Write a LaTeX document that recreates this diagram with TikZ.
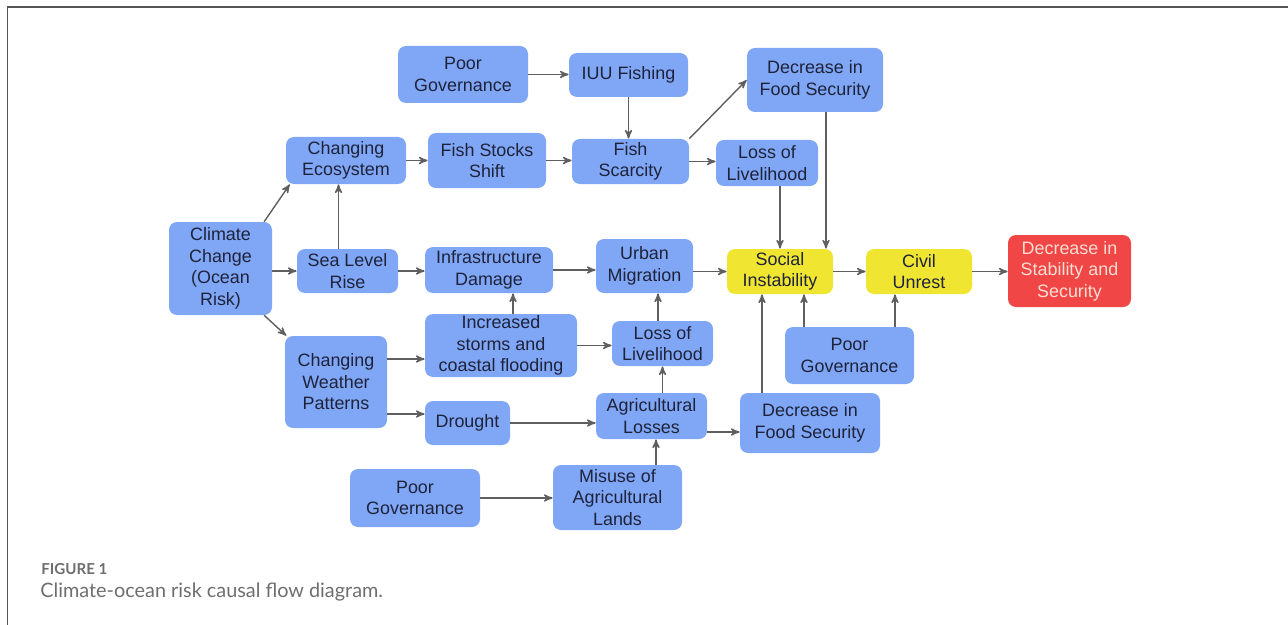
\documentclass[tikz,border=0pt]{standalone}
\usepackage{fontspec}
\setmainfont{Liberation Sans}
\newfontfamily\capfont{Lato}
\usetikzlibrary{arrows, calc}
\definecolor{boxblue}{RGB}{128,166,246}
\definecolor{boxyellow}{RGB}{240,230,50}
\definecolor{boxred}{RGB}{240,70,70}
\definecolor{inktext}{RGB}{30,35,58}
\definecolor{redtext}{RGB}{250,222,212}
\definecolor{edgegray}{RGB}{95,95,95}
\definecolor{framegray}{RGB}{85,85,85}
\definecolor{capgray}{RGB}{110,110,110}
\tikzset{
->, % makes the links directed
>=stealth', % small filled arrow heads
box/.style={rectangle, rounded corners=0.16cm, fill=boxblue, text=inktext, align=center, inner sep=0pt, font=\fontsize{10.2}{12.2}\selectfont}, % every blue box
yellowbox/.style={box, fill=boxyellow}, % instability boxes
redbox/.style={box, fill=boxred, text=redtext}, % final outcome
sz/.style 2 args={minimum width=#1*0.02cm, minimum height=#2*0.02cm}, % box size in pixels
link/.style={draw=edgegray, line width=0.8pt}, % the connectors
}

\begin{document}
\begin{tikzpicture}[x=0.02cm, y=-0.02cm]
    \useasboundingbox (0,0) rectangle (1288,625);
    \draw[-, framegray, line width=0.9pt] (7.5,625) -- (7.5,7) -- (1288,7);
    % ocean side
    \node[box, sz={103}{93}] (cc) at (220.5,268.5) {Climate\\Change\\(Ocean\\Risk)};
    \node[box, sz={120}{47}] (eco) at (346,160.5) {Changing\\Ecosystem};
    \node[box, sz={101}{44}] (slr) at (347.5,271) {Sea Level\\Rise};
    \node[box, sz={102}{92}] (cwp) at (336,382) {Changing\\Weather\\Patterns};
    \node[box, sz={130}{57}] (pg1) at (463,74.5) {Poor\\Governance};
    \node[box, sz={119}{44}] (iuu) at (628.5,75) {IUU Fishing};
    \node[box, sz={118}{55}] (fss) at (487,160.5) {Fish Stocks\\Shift};
    \node[box, sz={117}{45}] (fsc) at (630.5,161.5) {Fish\\Scarcity};
    \node[box, sz={136}{64}] (dfs1) at (815,80) {Decrease in\\Food Security};
    \node[box, sz={102}{46}] (lol1) at (767,163) {Loss of\\Livelihood};
    \node[box, sz={128}{46}] (infra) at (489,270) {Infrastructure\\Damage};
    \node[box, sz={97}{54}] (urb) at (644.5,266) {Urban\\Migration};
    \node[yellowbox, sz={106}{45}] (soc) at (780,271.5) {Social\\Instability};
    \node[yellowbox, sz={106}{45}] (civ) at (919,271.5) {Civil\\Unrest};
    \node[redbox, sz={123}{72}] (dss) at (1069.5,271) {Decrease in\\Stability and\\Security};
    % land side
    \node[box, sz={152}{63}] (storm) at (501,345.5) {Increased\\storms and\\coastal flooding};
    \node[box, sz={101}{45}] (lol2) at (662.5,343.5) {Loss of\\Livelihood};
    \node[box, sz={129}{57}] (pg2) at (849.5,355.5) {Poor\\Governance};
    \node[box, sz={85}{44}] (dro) at (467.5,423) {Drought};
    \node[box, sz={111}{46}] (agr) at (651.5,416) {Agricultural\\Losses};
    \node[box, sz={140}{60}] (dfs2) at (810,423) {Decrease in\\Food Security};
    \node[box, sz={130}{58}] (pg3) at (415,498) {Poor\\Governance};
    \node[box, sz={129}{65}] (mis) at (617.5,497.5) {Misuse of\\Agricultural\\Lands};
    % caption
    \node[anchor=base west, inner sep=0pt, text=capgray, font=\capfont\bfseries\fontsize{8.6}{10}\selectfont] (cap1) at (41,574) {FIGURE 1};
    \node[anchor=base west, inner sep=0pt, text=capgray, font=\capfont\fontsize{11.3}{13}\selectfont] (cap2) at (40,597) {Climate-ocean risk causal flow diagram.};
    % links
    \draw[link] (cc.47) -- (eco.203);
    \draw[link] (cc.east |- slr.west) -- (slr.west);
    \draw[link] (cc.-47) -- (cwp.137);
    \draw[link] ($(slr.north)+(-9,0)$) -- ($(slr.north |- eco.south)+(-9,0)$);
    \draw[link] (slr.east) -- (slr.east -| infra.west);
    \draw[link] (eco.east) -- (eco.east -| fss.west);
    \draw[link] (fss.east) -- (fss.east -| fsc.west);
    \draw[link] (pg1.east) -- (pg1.east -| iuu.west);
    \draw[link] (iuu.south) -- (iuu.south |- fsc.north);
    \draw[link] (fsc.north east) -- (dfs1.west);
    \draw[link] (fsc.east) -- (fsc.east -| lol1.west);
    \draw[link] (lol1.south -| soc.north) -- (soc.north);
    \draw[link] ($(dfs1.south)+(11,0)$) -- ($(dfs1.south |- soc.north)+(11,0)$);
    \draw[link] (infra.east) -- (infra.east -| urb.west);
    \draw[link] (soc.west -| urb.east) -- (soc.west);
    \draw[link] (soc.east) -- (civ.west);
    \draw[link] (civ.east) -- (civ.east -| dss.west);
    \draw[link] ($(storm.north)+(12,0)$) -- ($(storm.north |- infra.south)+(12,0)$);
    \draw[link] ($(cwp.east)+(0,-23)$) -- ($(cwp.east -| storm.west)+(0,-23)$);
    \draw[link] ($(cwp.east)+(0,32)$) -- ($(cwp.east -| dro.west)+(0,32)$);
    \draw[link] (storm.east) -- (storm.east -| lol2.west);
    \draw[link] ($(lol2.north)+(-4.5,0)$) -- ($(lol2.north |- urb.south)+(-4.5,0)$);
    \draw[link] (dro.east) -- (dro.east -| agr.west);
    \draw[link] (agr.north -| lol2.south) -- (lol2.south);
    \draw[link] ($(agr.south |- mis.north)+(4.5,0)$) -- ($(agr.south)+(4.5,0)$);
    \draw[link] (pg3.east) -- (pg3.east -| mis.west);
    \draw[link] ($(agr.east)+(0,16)$) -- ($(agr.east -| dfs2.west)+(0,16)$);
    \draw[link] ($(soc.south |- dfs2.north)+(-18,0)$) -- ($(soc.south)+(-18,0)$);
    \draw[link] ($(soc.south |- pg2.north)+(24,0)$) -- ($(soc.south)+(24,0)$);
    \draw[link] ($(civ.south |- pg2.north)+(-24,0)$) -- ($(civ.south)+(-24,0)$);
\end{tikzpicture}
\end{document}
